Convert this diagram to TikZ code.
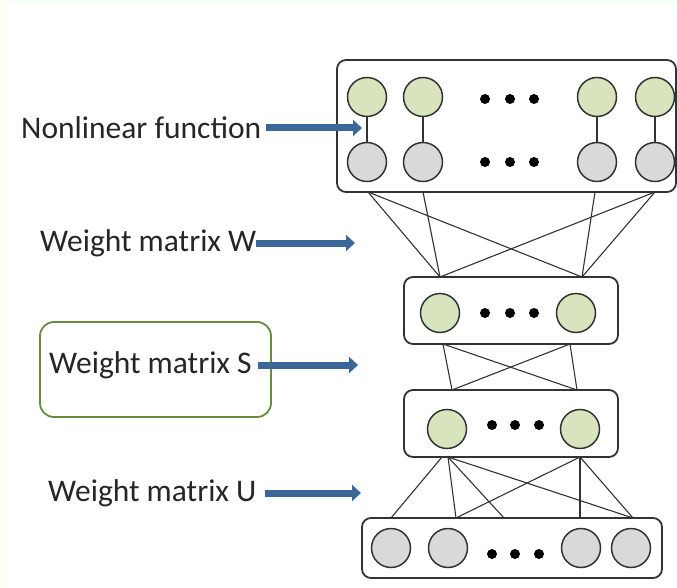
\documentclass[tikz,border=0pt]{standalone}
\usepackage{fontspec}
\setmainfont{Carlito}
\usetikzlibrary{arrows.meta}
\definecolor{gfill}{HTML}{D7E4BD}
\definecolor{hfill}{HTML}{D9D9D9}
\definecolor{edge}{HTML}{333333}
\definecolor{arrblue}{HTML}{3B6698}
\definecolor{olive}{HTML}{6A8C3C}
\definecolor{txt}{HTML}{262626}
\begin{document}
\begin{tikzpicture}[x=1pt,y=-1pt,
  unit/.style={circle,draw=edge,line width=1.5pt,minimum size=39pt,inner sep=0pt},
  gunit/.style={unit,fill=gfill},
  hunit/.style={unit,fill=hfill},
  layer/.style={draw=edge,line width=1.8pt,rounded corners=9pt,fill=white,inner sep=0pt},
  dot/.style={circle,fill=black,minimum size=10pt,inner sep=0pt},
  wire/.style={draw=edge,line width=1.1pt},
  lab/.style={font=\fontsize{31.5}{36}\selectfont,text=txt,inner sep=0pt,anchor=west},
  bigarrow/.style={draw=arrblue,line width=7pt,-{Triangle[length=9pt,width=16pt]}}
]
\useasboundingbox (0,0) rectangle (677,588);
\fill[fill=white] (0,0) rectangle (677,588);
\fill[fill=green!3!white] (0,0) rectangle (677,3);
\fill[fill=yellow!3!white] (0,0) rectangle (6,588);

% layer boxes
\node[layer,minimum width=339pt,minimum height=132pt] (top) at (506.5,126) {};
\node[layer,minimum width=214pt,minimum height=67pt] (mid1) at (511,310.5) {};
\node[layer,minimum width=214pt,minimum height=67pt] (mid2) at (511,423.5) {};
\node[layer,minimum width=300pt,minimum height=60pt] (bot) at (512,548) {};

% top layer
\node[gunit] (g1) at (367,97) {};
\node[gunit] (g2) at (423,97) {};
\node[gunit] (g3) at (597,97) {};
\node[gunit] (g4) at (655,97) {};
\node[hunit] (h1) at (367,162) {};
\node[hunit] (h2) at (423,162) {};
\node[hunit] (h3) at (597,162) {};
\node[hunit] (h4) at (655,162) {};
\foreach \i in {1,...,4} {\draw[wire,line width=1.4pt] (g\i) -- (h\i);}
\node[dot] (ta) at (485,99) {};
\node[dot] (tb) at (510,99) {};
\node[dot] (tc) at (534,99) {};
\node[dot] (td) at (485,162) {};
\node[dot] (te) at (510,162) {};
\node[dot] (tf) at (534,162) {};

% middle layer 1
\node[gunit] (m1) at (440,313) {};
\node[gunit] (m2) at (576,313) {};
\node[dot] (ma) at (485,313) {};
\node[dot] (mb) at (510,313) {};
\node[dot] (mc) at (534,313) {};

% middle layer 2
\node[gunit] (n1) at (447,429) {};
\node[gunit] (n2) at (580,429) {};
\node[dot] (na) at (492,425) {};
\node[dot] (nb) at (515,425) {};
\node[dot] (nc) at (539,425) {};

% bottom layer
\node[hunit] (b1) at (391,548) {};
\node[hunit] (b2) at (448,548) {};
\node[hunit] (b3) at (581,548) {};
\node[hunit] (b4) at (631,548) {};
\node[dot] (ba) at (492,554) {};
\node[dot] (bb) at (515,554) {};
\node[dot] (bc) at (539,554) {};

% connection points
\coordinate (s1) at (368,192);
\coordinate (s2) at (423,192);
\coordinate (s3) at (595,192);
\coordinate (s4) at (655,192);
\coordinate (r1) at (440,277);
\coordinate (r2) at (582,277);
\coordinate (u1) at (443,344);
\coordinate (u2) at (570,344);
\coordinate (v1) at (452,390);
\coordinate (v2) at (577,390);
\coordinate (p1) at (442,457);
\coordinate (p2) at (448,457);
\coordinate (p3) at (580,457);
\coordinate (q1) at (391,518);
\coordinate (q2) at (456,518);
\coordinate (q3) at (504,518);
\coordinate (q4) at (580,518);
\coordinate (q5) at (633,518);

\draw[wire] (s1) -- (r1);
\draw[wire] (s1) -- (r2);
\draw[wire] (s2) -- (r1);
\draw[wire] (s4) -- (r1);
\draw[wire] (s3) -- (r2);
\draw[wire] (s4) -- (r2);

\draw[wire] (u1) -- (v1);
\draw[wire] (u1) -- (v2);
\draw[wire] (u2) -- (v1);
\draw[wire] (u2) -- (v2);

\draw[wire] (p1) -- (q1);
\draw[wire] (p2) -- (q2);
\draw[wire] (p2) -- (q3);
\draw[wire] (p2) -- (q5);
\draw[wire] (p3) -- (q2);
\draw[wire] (p3) -- (q4);
\draw[wire] (p3) -- (q5);

% labels
\node[draw=olive,line width=1.8pt,rounded corners=14pt,minimum width=231pt,minimum height=95pt] (sbox) at (155.5,369.5) {};
\node[lab] (lf) at (21,128) {Nonlinear function};
\node[lab] (lw) at (40,243) {Weight matrix W};
\node[lab] (ls) at (49,365) {Weight matrix S};
\node[lab] (lu) at (48,493) {Weight matrix U};
\coordinate (af) at (362,128);
\coordinate (aw) at (355,243);
\coordinate (as) at (358,365);
\coordinate (au) at (361,493);
\draw[bigarrow] ([xshift=4pt]lf.east) -- (af);
\draw[bigarrow] (lw.east) -- (aw);
\draw[bigarrow] ([xshift=6pt]ls.east) -- (as);
\draw[bigarrow] ([xshift=8pt]lu.east) -- (au);
\end{tikzpicture}
\end{document}
